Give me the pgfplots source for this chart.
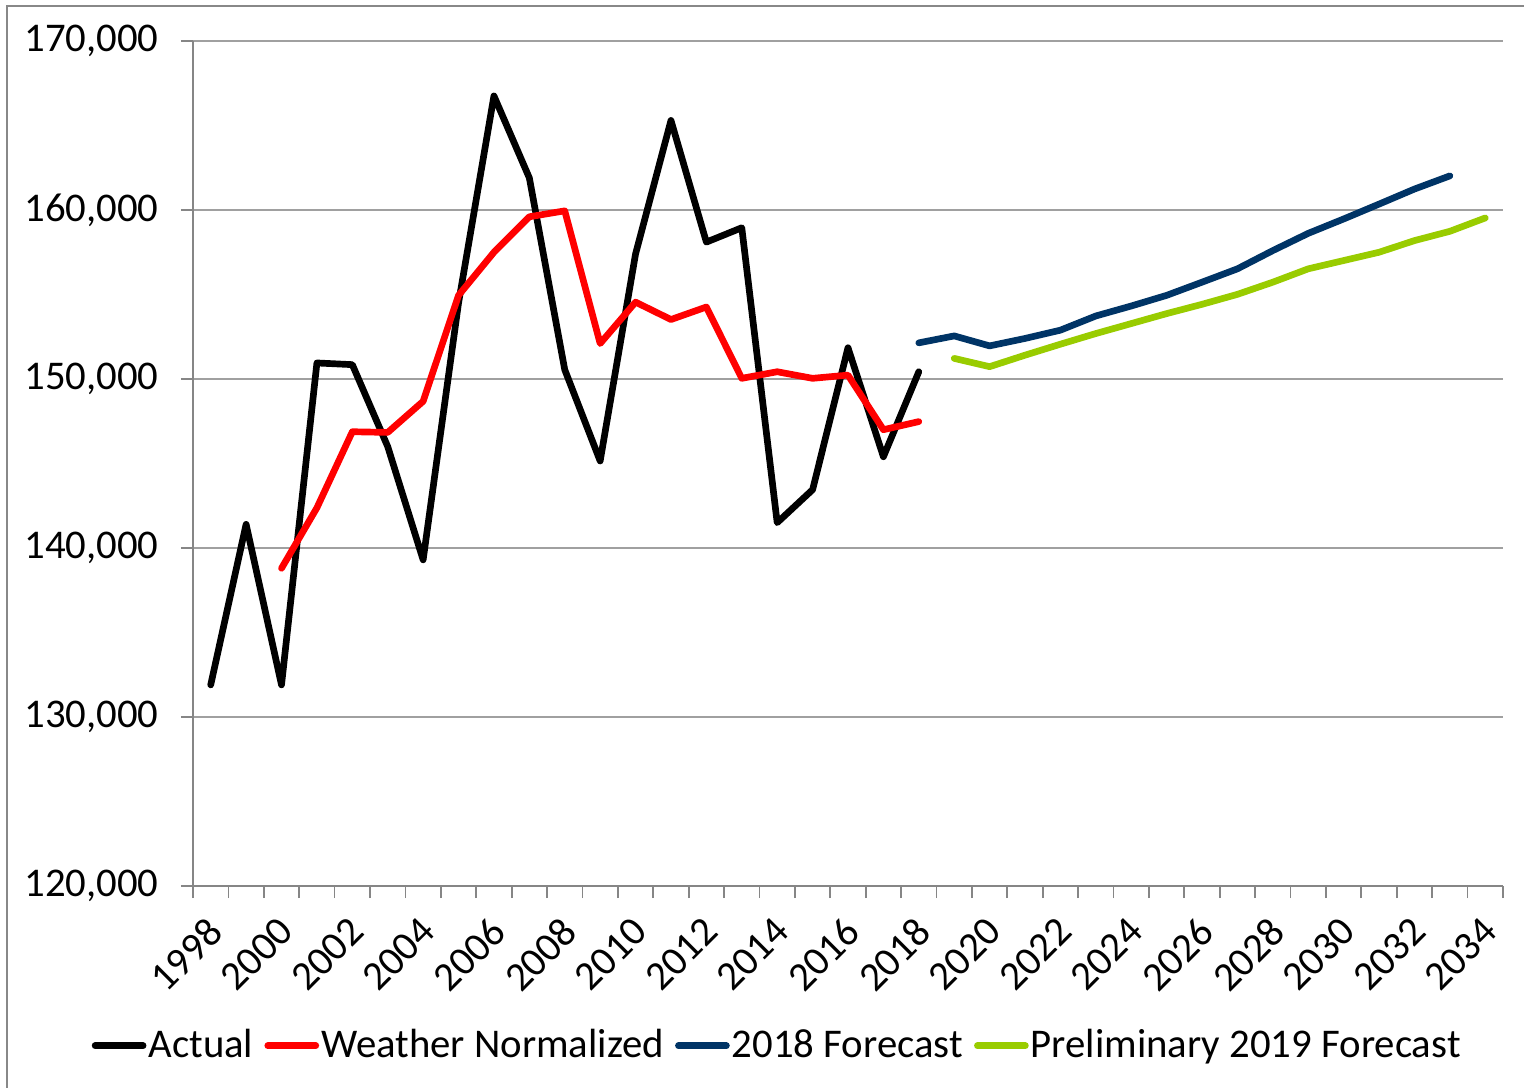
\documentclass[border=0pt]{standalone}
\usepackage{fontspec}
\setmainfont{Carlito}
\usepackage{pgfplots}
\pgfplotsset{compat=1.18}

\definecolor{navyfc}{RGB}{0,52,102}
\definecolor{greenfc}{RGB}{153,204,0}
\definecolor{gridgray}{RGB}{160,160,160}
\definecolor{axisgray}{RGB}{134,134,134}
\definecolor{framegray}{RGB}{136,136,136}

\newcommand{\chartfont}{\fontsize{11.6}{13.5}\selectfont}

\begin{document}
\begin{tikzpicture}
\path[use as bounding box] (-1.93cm,-2.01cm) rectangle (13.31cm,8.86cm);
\draw[framegray, line width=0.6pt] (-1.86cm,-2.05cm) -- (-1.86cm,8.80cm) -- (13.35cm,8.80cm);
\begin{axis}[
  at={(0,0)}, anchor=south west,
  scale only axis, width=13.1cm, height=8.45cm,
  xmin=-0.5, xmax=36.5, ymin=120000, ymax=170000,
  axis lines=left, axis line style={-, draw=axisgray, line width=0.5pt},
  ytick={120000,130000,...,170000},
  ymajorgrids, grid style={gridgray, line width=0.5pt},
  xtick={0,2,...,36},
  xticklabels={1998,2000,2002,2004,2006,2008,2010,2012,2014,2016,2018,2020,2022,2024,2026,2028,2030,2032,2034},
  minor xtick={-0.5,0.5,...,36.5},
  major x tick style={draw=none},
  tick align=outside, major tick length=0.12cm, minor tick length=0.12cm,
  tick style={axisgray, line width=0.5pt},
  xticklabel style={xshift=-0.05cm, rotate=45, anchor=north east, font=\chartfont},
  xticklabel shift=0cm,
  yticklabel style={font=\chartfont, xshift=-0.1cm},
  scaled y ticks=false,
  /pgf/number format/.cd, fixed, 1000 sep={,}, assume math mode=true,
  /pgfplots/.cd,
  every axis plot/.append style={line width=1.9pt, line cap=round, line join=round},
  legend style={at={(0.446,-0.189)}, anchor=center, draw=none, font=\chartfont,
    legend columns=-1, /tikz/every even column/.append style={column sep=0.09cm},
    inner sep=0pt, nodes={inner xsep=0.6pt}},
  legend image code/.code={\draw[#1] (0cm,0cm) -- (0.48cm,0cm);},
]
\addplot[black] coordinates {
  (0,131900)(1,141400)(2,131900)(3,150950)(4,150850)(5,146000)(6,139300)
  (7,154500)(8,166750)(9,161900)(10,150550)(11,145150)(12,157400)(13,165300)
  (14,158100)(15,158950)(16,141500)(17,143450)(18,151850)(19,145400)(20,150430)
};
\addlegendentry{Actual}
\addplot[red] coordinates {
  (2,138800)(3,142380)(4,146880)(5,146840)(6,148680)(7,154950)(8,157500)
  (9,159600)(10,159950)(11,152100)(12,154550)(13,153520)(14,154260)(15,150040)
  (16,150430)(17,150040)(18,150230)(19,147000)(20,147480)
};
\addlegendentry{Weather Normalized}
\addplot[navyfc] coordinates {
  (20,152140)(21,152550)(22,151960)(23,152400)(24,152890)(25,153730)(26,154320)
  (27,154950)(28,155730)(29,156520)(30,157600)(31,158620)(32,159470)(33,160350)
  (34,161240)(35,162020)
};
\addlegendentry{2018 Forecast}
\addplot[greenfc] coordinates {
  (21,151220)(22,150730)(23,151410)(24,152060)(25,152690)(26,153280)(27,153870)
  (28,154420)(29,155010)(30,155730)(31,156520)(32,157010)(33,157500)(34,158190)
  (35,158740)(36,159530)
};
\addlegendentry{Preliminary 2019 Forecast}
\end{axis}
\end{tikzpicture}
\end{document}
